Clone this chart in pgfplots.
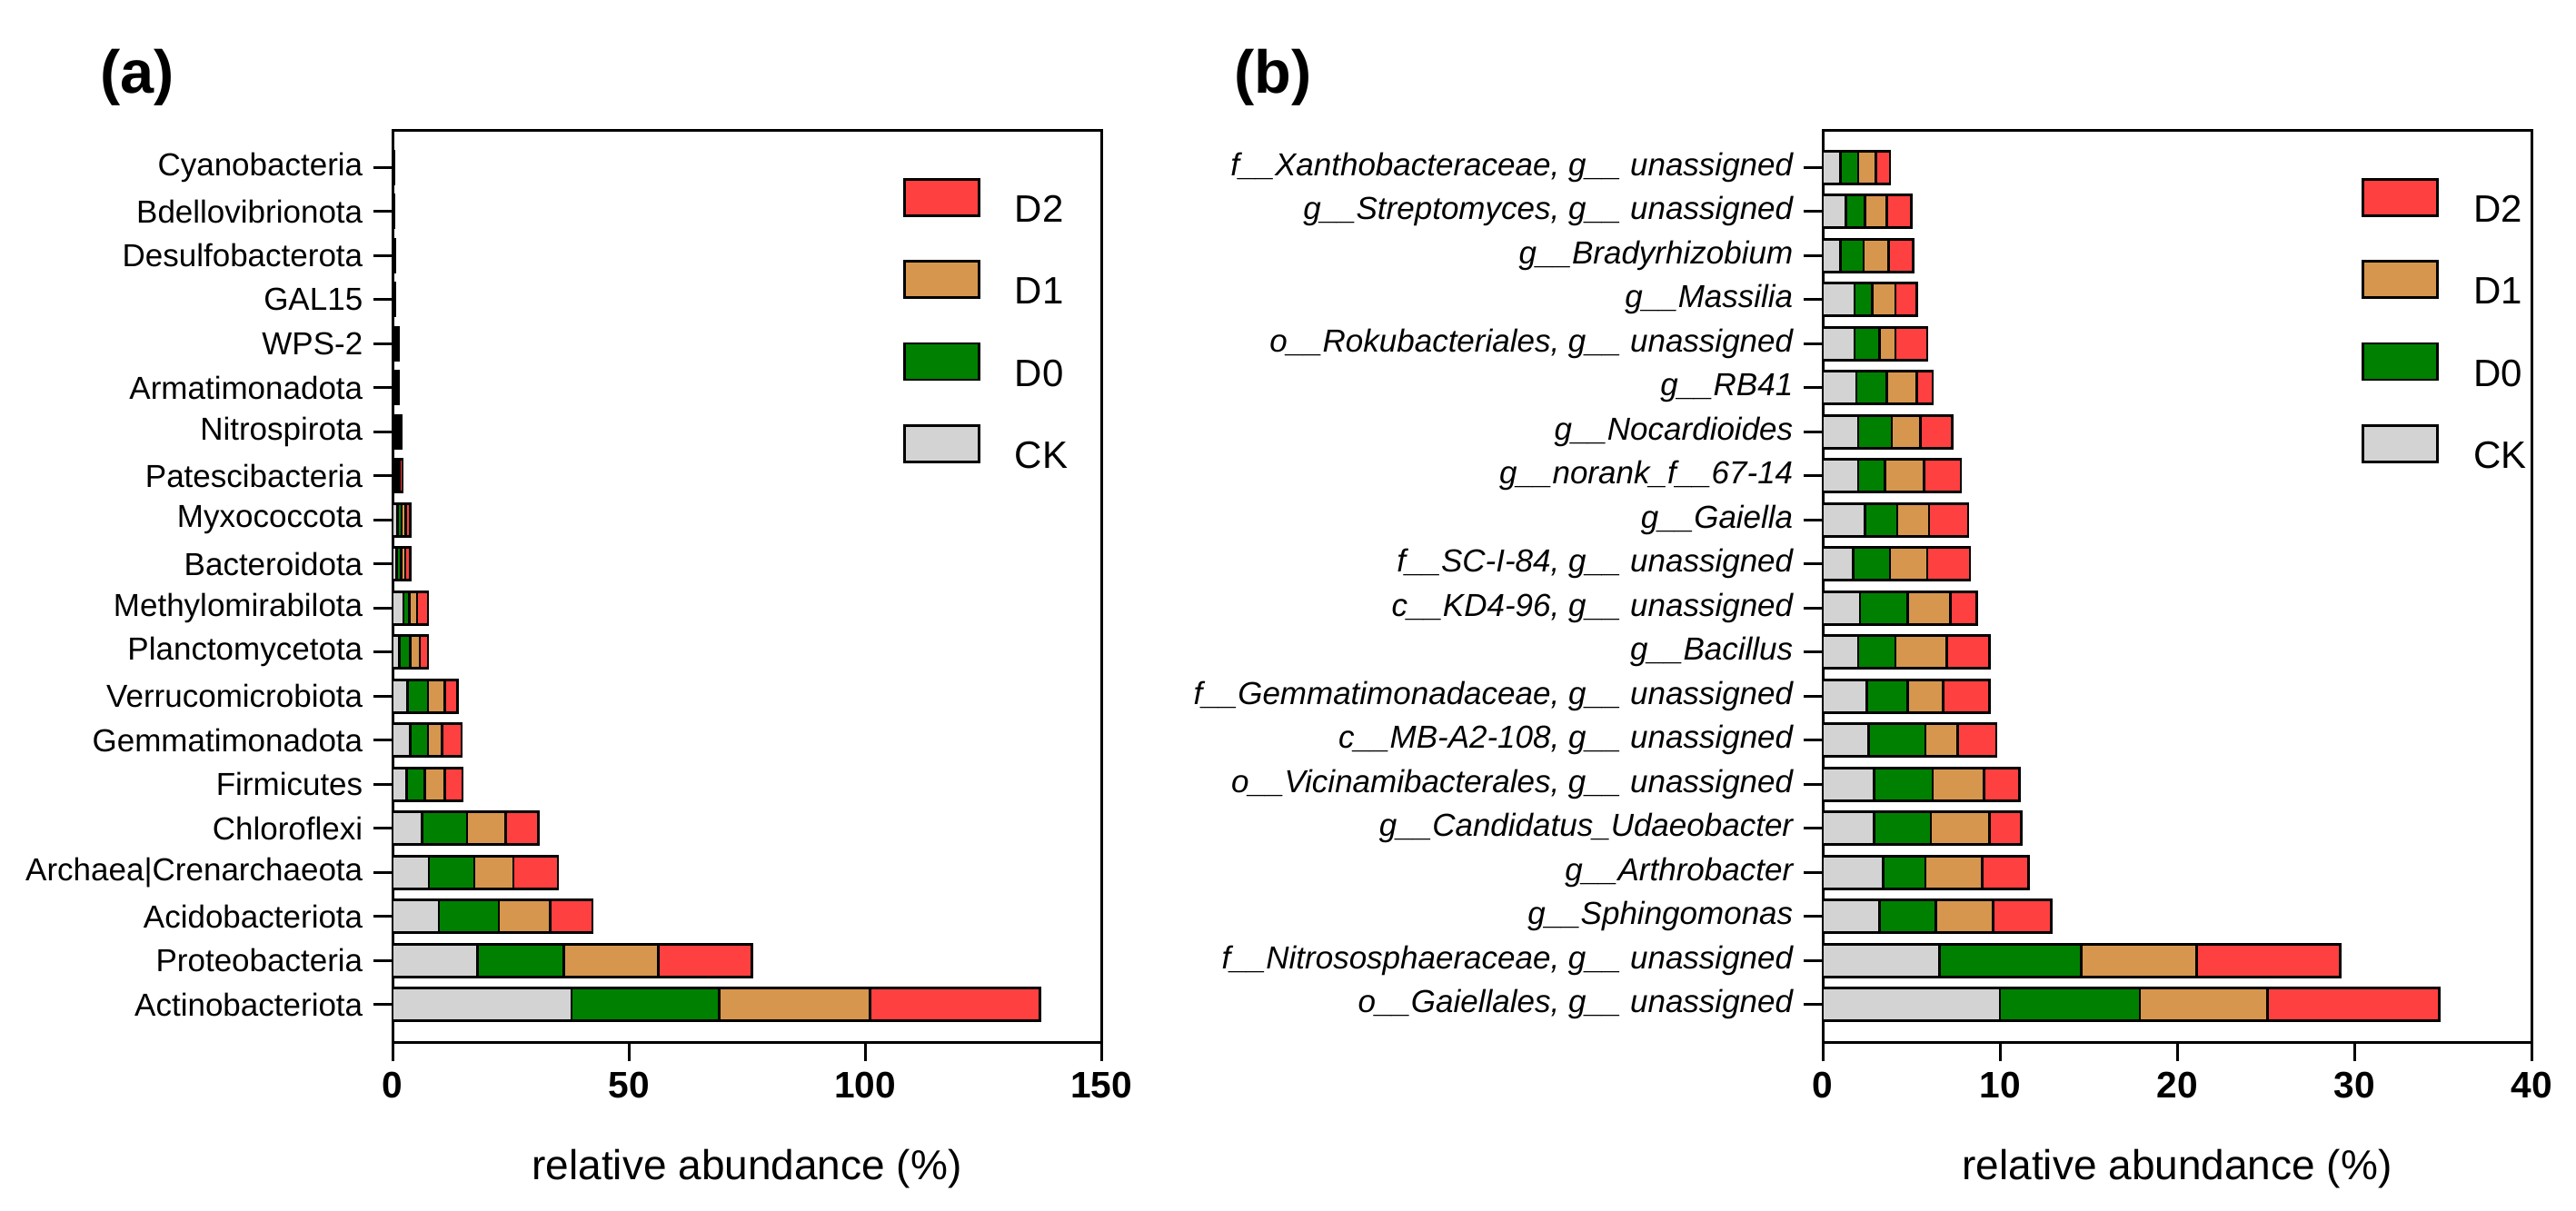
\documentclass[border=0pt]{standalone}
\usepackage{fontspec}
\setmainfont{Liberation Sans}
\usepackage{pgfplots}
\usepackage{pgfplotstable}
\pgfplotsset{compat=1.18}

\definecolor{ckc}{RGB}{211,211,211}
\definecolor{dzero}{RGB}{0,128,0}
\definecolor{done}{RGB}{214,150,78}
\definecolor{dtwo}{RGB}{255,64,64}

% y index 0 = bottom bar
\pgfplotstableread{
y CK D0 D1 D2
0 37.9 31.2 31.9 36.0
1 18.0 18.3 20.0 19.8
2 9.8 12.7 10.9 8.9
3 7.7 9.6 8.3 9.4
4 6.2 9.6 8.2 6.9
5 3.0 3.8 4.3 3.7
6 3.8 3.7 3.0 4.1
7 3.2 4.3 3.5 2.7
8 1.5 2.3 2.0 1.7
9 2.3 1.3 1.6 2.3
10 0.9 0.9 0.9 1.0
11 1.0 0.9 0.9 0.9
12 0.5 0.5 0.5 0.6
13 0.5 0.5 0.4 0.5
14 0.3 0.3 0.35 0.35
15 0.3 0.3 0.3 0.3
16 0.15 0.15 0.15 0.15
17 0.12 0.12 0.12 0.12
18 0.1 0.1 0.1 0.1
19 0.08 0.08 0.08 0.08
}\phyla

\pgfplotstableread{
y CK D0 D1 D2
0 10.0 7.9 7.2 9.7
1 6.6 8.0 6.5 8.1
2 3.2 3.2 3.2 3.3
3 3.4 2.4 3.2 2.6
4 2.9 3.2 3.3 1.8
5 2.9 3.3 2.9 2.0
6 2.6 3.2 1.8 2.2
7 2.5 2.3 2.0 2.6
8 2.0 2.1 2.9 2.4
9 2.1 2.7 2.4 1.5
10 1.7 2.1 2.1 2.4
11 2.4 1.8 1.8 2.2
12 2.0 1.5 2.2 2.1
13 2.0 1.9 1.6 1.8
14 1.9 1.7 1.7 0.9
15 1.8 1.4 0.9 1.8
16 1.8 1.0 1.3 1.2
17 1.0 1.3 1.4 1.4
18 1.3 1.1 1.2 1.4
19 1.0 1.0 1.0 0.8
}\genera

\pgfplotsset{
  panel/.style={
    scale only axis, width=234pt, height=301.2pt,
    anchor=south west,
    xbar stacked, bar width=10.8pt,
    xmin=0, ymin=-0.85, ymax=19.85,
    ytick={0,...,19},
    tick align=outside, xtick pos=left, ytick pos=left,
    major tick length=6.3pt,
    axis line style={line width=0.9pt},
    every tick/.style={black, line width=0.9pt},
    /pgf/number format/assume math mode=true,
    xticklabel style={font=\fontsize{12.2}{14}\selectfont\bfseries},
    yticklabel style={font=\fontsize{10.5}{12}\selectfont, text=black},
    xlabel={relative abundance (\%)},
    xlabel style={font=\fontsize{13.8}{16}\selectfont, at={(axis description cs:0.5,0)}, anchor=center, yshift=-42pt},
    legend image code/.code={\draw[##1, draw=black, line width=0.8pt] (0pt,-1.5pt) rectangle (24.6pt,10.5pt); \path (36pt,0pt);},
    reverse legend,
    legend cell align=left,
    legend style={at={(0.72,0.948)}, anchor=north west, draw=none, fill=none, inner sep=0pt,
      font=\fontsize{12.6}{15}\selectfont, row sep=11.1pt, column sep=0pt,
      nodes={inner sep=0pt}},
  },
  segment/.style={fill=#1, draw=black, line width=0.8pt},
}

\begin{document}
\begin{tikzpicture}
\useasboundingbox (0,0) rectangle (850.5pt,399.6pt);

\node[anchor=west, font=\fontsize{20}{24}\selectfont\bfseries] at (29.5pt,374.1pt) {(a)};
\node[anchor=west, font=\fontsize{20}{24}\selectfont\bfseries] at (404pt,374.1pt) {(b)};

\begin{axis}[panel, at={(129.6pt,55.5pt)},
    xmax=150, xtick={0,50,100,150},
    yticklabels={Actinobacteriota, Proteobacteria, Acidobacteriota, Archaea\textbar Crenarchaeota,
      Chloroflexi, Firmicutes, Gemmatimonadota, Verrucomicrobiota, Planctomycetota,
      Methylomirabilota, Bacteroidota, Myxococcota, Patescibacteria, Nitrospirota,
      Armatimonadota, WPS-2, GAL15, Desulfobacterota, Bdellovibrionota, Cyanobacteria},
  ]
  \addplot[segment=ckc] table[x=CK, y=y] {\phyla};
  \addplot[segment=dzero] table[x=D0, y=y] {\phyla};
  \addplot[segment=done] table[x=D1, y=y] {\phyla};
  \addplot[segment=dtwo] table[x=D2, y=y] {\phyla};
  \legend{CK, D0, D1, D2}
\end{axis}

\begin{axis}[panel, at={(601.8pt,55.5pt)},
    xmax=40, xtick={0,10,20,30,40},
    legend style={at={(0.76,0.948)}},
    yticklabel style={font=\fontsize{10.5}{12}\selectfont\itshape},
    yticklabels={{o\_\_Gaiellales, g\_\_ unassigned},
      {f\_\_Nitrososphaeraceae, g\_\_ unassigned},
      {g\_\_Sphingomonas},
      {g\_\_Arthrobacter},
      {g\_\_Candidatus\_Udaeobacter},
      {o\_\_Vicinamibacterales, g\_\_ unassigned},
      {c\_\_MB-A2-108, g\_\_ unassigned},
      {f\_\_Gemmatimonadaceae, g\_\_ unassigned},
      {g\_\_Bacillus},
      {c\_\_KD4-96, g\_\_ unassigned},
      {f\_\_SC-I-84, g\_\_ unassigned},
      {g\_\_Gaiella},
      {g\_\_norank\_f\_\_67-14},
      {g\_\_Nocardioides},
      {g\_\_RB41},
      {o\_\_Rokubacteriales, g\_\_ unassigned},
      {g\_\_Massilia},
      {g\_\_Bradyrhizobium},
      {g\_\_Streptomyces, g\_\_ unassigned},
      {f\_\_Xanthobacteraceae, g\_\_ unassigned}},
  ]
  \addplot[segment=ckc] table[x=CK, y=y] {\genera};
  \addplot[segment=dzero] table[x=D0, y=y] {\genera};
  \addplot[segment=done] table[x=D1, y=y] {\genera};
  \addplot[segment=dtwo] table[x=D2, y=y] {\genera};
  \legend{CK, D0, D1, D2}
\end{axis}
\end{tikzpicture}
\end{document}
